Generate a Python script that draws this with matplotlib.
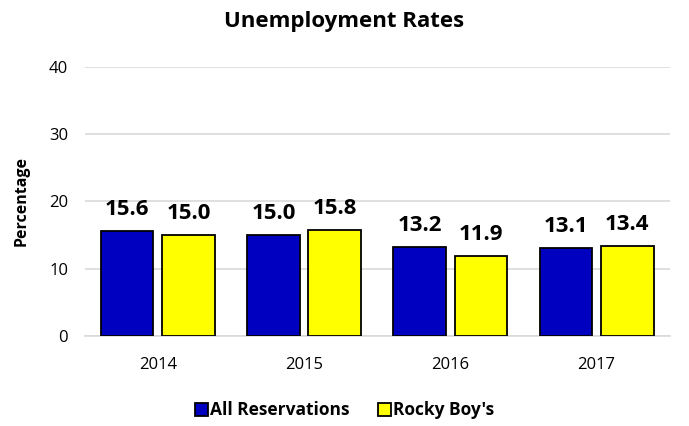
import matplotlib
matplotlib.use("Agg")
import matplotlib.pyplot as plt
import numpy as np

years = ["2014", "2015", "2016", "2017"]
all_res = [15.6, 15.0, 13.2, 13.1]
rocky = [15.0, 15.8, 11.9, 13.4]
yticks = [0, 10, 20, 30, 40]

plt.rcParams['font.family'] = ['Open Sans', 'DejaVu Sans']

fig = plt.figure(figsize=(6.89, 4.26), dpi=100)
ax = fig.add_axes([0.123, 0.211, 0.849, 0.632])

x = np.arange(len(years))
w = 0.36
off = 0.21
b1 = ax.bar(x - off, all_res, w, color="#0000C0", edgecolor="black", linewidth=1.3, label="All Reservations", zorder=3)
b2 = ax.bar(x + off, rocky, w, color="#FFFF00", edgecolor="black", linewidth=1.3, label="Rocky Boy's", zorder=3)

for bars, vals in ((b1, all_res), (b2, rocky)):
    for b, v in zip(bars, vals):
        ax.annotate(f"{v:.1f}", (b.get_x() + b.get_width() / 2, v), xytext=(0, 8),
                    textcoords="offset points", ha="center", va="bottom",
                    fontsize=16, fontweight="bold")

ax.set_xlim(-0.5, 3.5)
ax.set_ylim(0, 40)
ax.set_yticks(yticks)
ax.set_xticks(x)
ax.set_xticklabels(years)
ax.tick_params(axis="both", length=0, labelsize=12)
ax.tick_params(axis="x", pad=15)
ax.tick_params(axis="y", pad=12)
ax.yaxis.grid(True, color="#D9D9D9", linewidth=1.2, zorder=0)
for s in ["top", "right", "left"]:
    ax.spines[s].set_visible(False)
ax.spines["bottom"].set_color("#D9D9D9")
ax.spines["bottom"].set_linewidth(1.2)

ax.set_ylabel("Percentage", fontsize=11.5, fontweight="bold", labelpad=14)
fig.text(0.5, 0.95, "Unemployment Rates", ha="center", va="center", fontsize=16, fontweight="bold")

fig.legend(handles=[b1, b2], loc="center", bbox_to_anchor=(0.5, 0.037), ncol=2, frameon=False,
           prop={"size": 12.5, "weight": "bold"}, handlelength=0.75, handleheight=0.75,
           handletextpad=0.15, columnspacing=1.6)

fig.savefig("out.png", dpi=100)
